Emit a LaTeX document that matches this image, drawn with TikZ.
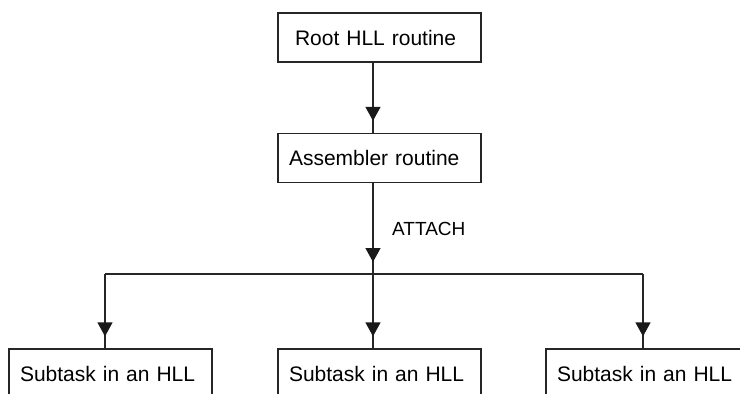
\documentclass[tikz,border=0pt]{standalone}
\usepackage{fontspec}
\setmainfont{Liberation Sans}
\usetikzlibrary{arrows.meta,decorations.markings}
\tikzset{
  box/.style={draw=black!85, line width=1.3pt, minimum width=203pt, minimum height=49pt,
    inner xsep=11pt, inner ysep=0pt, text width=181pt, align=left,
    font=\fontsize{21}{24}\selectfont, anchor=center},
  conn/.style={draw=black!85, line width=1.3pt},
  midarrow/.style={postaction={decorate}, decoration={markings,
    mark=at position -12pt with {\arrow[black!90]{Triangle[width=15pt,length=14pt]}}}},
  lbl/.style={font=\fontsize{19}{22}\selectfont, inner sep=0pt}
}
\begin{document}
\begin{tikzpicture}[x=1pt,y=-1pt]
\useasboundingbox (0,0) rectangle (740,394);
\clip (0,0) rectangle (740,394);
\node[box] (root) at (379.5,37.5) {\hspace*{6pt}Root HLL routine};
\node[box] (asm) at (379.5,158) {Assembler routine};
\node[box] (s1) at (110.5,373.5) {Subtask in an HLL};
\node[box] (s2) at (379.5,373.5) {Subtask in an HLL};
\node[box] (s3) at (647.5,373.5) {Subtask in an HLL};
\coordinate (j) at (373,274);
\coordinate (jl) at (105,274);
\coordinate (jr) at (643,274);
\node[lbl, anchor=west] (att) at (392,228.5) {ATTACH};
\draw[conn, midarrow] ([xshift=-6.5pt]root.south) -- ([xshift=-6.5pt]asm.north);
\draw[conn, midarrow] ([xshift=-6.5pt]asm.south) -- (j);
\draw[conn] (jl) -- (jr);
\draw[conn, midarrow] (jl) -- (jl |- s1.north);
\draw[conn, midarrow] (j) -- (j |- s2.north);
\draw[conn, midarrow] (jr) -- (jr |- s3.north);
\end{tikzpicture}
\end{document}
